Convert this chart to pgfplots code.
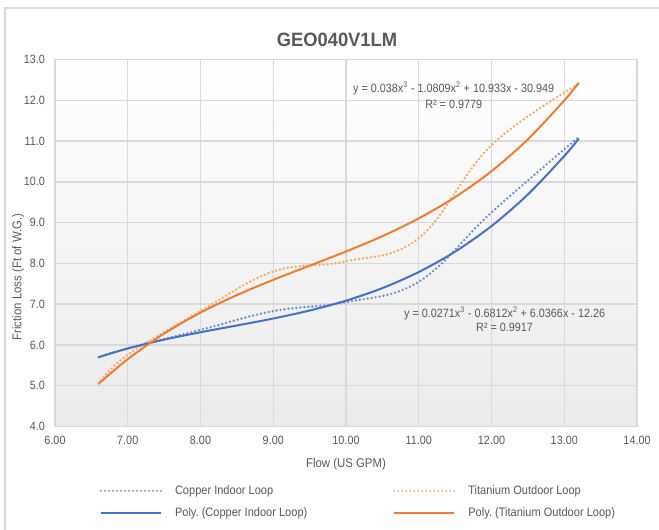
\documentclass[border=0pt]{standalone}
\usepackage{fontspec}
\setmainfont{Liberation Sans}[FakeStretch=0.9]
\newfontfamily\titlefont{Liberation Sans}[FakeStretch=0.95]
\usepackage{pgfplots}
\pgfplotsset{compat=1.18}
\definecolor{cuBlue}{HTML}{4472C4}
\definecolor{tiOrange}{HTML}{ED7D31}
\definecolor{cuDot}{HTML}{6F8FCF}
\definecolor{tiDot}{HTML}{F2AA64}
\definecolor{txt}{HTML}{595959}
\definecolor{gridc}{HTML}{D9D9D9}
\frenchspacing
\begin{document}
\frenchspacing
\begin{tikzpicture}[x=0.75pt,y=0.75pt]
\useasboundingbox (0,0) rectangle (659,529);
\fill[white] (0,0) rectangle (659,529);
\draw[gridc, line width=0.9pt] (5,-10) -- (5,521) -- (670,521);
\begin{axis}[
  at={(41.25pt,76.875pt)}, anchor=south west,
  width=436.5pt, height=275.25pt, scale only axis,
  xmin=6, xmax=14, ymin=4, ymax=13,
  xtick={6,7,...,14}, ytick={4,5,...,13},
  /pgf/number format/assume math mode=true,
  x tick label style={yshift=-4pt, /pgf/number format/.cd,fixed,fixed zerofill,precision=2},
  y tick label style={xshift=-4pt, /pgf/number format/.cd,fixed,fixed zerofill,precision=1},
  ticklabel style={font=\fontsize{9}{10}\selectfont, text=txt},
  grid=major, major grid style={gridc, line width=1.1pt},
  axis line style={gridc, line width=1.1pt},
  tick style={draw=none},
  axis background/.style={top color=white, bottom color=black!8},
  legend columns=2,
  legend cell align=left,
  legend image code/.code={\draw[#1, line width=1.5pt] (0pt,0pt) -- (45pt,0pt); \path (52.5pt,0pt);},
  legend style={at={(0.07,-0.145)}, anchor=north west, draw=none, fill=none,
    font=\fontsize{9.2}{11}\selectfont, text=txt, row sep=4.5pt,
    /tikz/every even column/.append style={column sep=62.5pt}},
]
% data series (smoothed)
\addplot[cuDot, line width=2pt, dash pattern=on 0pt off 3pt, line cap=round, smooth, tension=0.65]
  coordinates {(6.6,5.70) (7.0,5.92) (8.0,6.37) (9.0,6.83) (10.0,7.05) (11.0,7.55) (12.0,9.25) (13.2,11.10)};
\addlegendentry{Copper Indoor Loop}
\addplot[tiDot, line width=2pt, dash pattern=on 0pt off 3pt, line cap=round, smooth, tension=0.65]
  coordinates {(6.6,5.05) (7.0,5.76) (8.0,6.83) (9.0,7.80) (10.0,8.05) (11.0,8.62) (12.0,10.90) (13.2,12.40)};
\addlegendentry{Titanium Outdoor Loop}
% polynomial trendlines
\addplot[cuBlue, line width=1.5pt, smooth]
  coordinates {(6.6,5.700) (7.0,5.913) (7.5,6.130) (8.0,6.311) (8.5,6.477) (9.0,6.648) (9.5,6.844) (10.0,7.086) (10.5,7.394) (11.0,7.788) (11.5,8.288) (12.0,8.915) (12.5,9.690) (13.0,10.632) (13.2,11.060)};
\addlegendentry{Poly. (Copper Indoor Loop)}
\addplot[tiOrange, line width=1.5pt, smooth]
  coordinates {(6.6,5.050) (7.0,5.652) (7.5,6.279) (8.0,6.793) (8.5,7.223) (9.0,7.597) (9.5,7.944) (10.0,8.291) (10.5,8.668) (11.0,9.103) (11.5,9.625) (12.0,10.261) (12.5,11.042) (13.0,11.994) (13.2,12.430)};
\addlegendentry{Poly. (Titanium Outdoor Loop)}
\node[font=\fontsize{9}{11}\selectfont, text=txt] at (axis cs:11.48,12.28) {y = 0.038x\textsuperscript{3} - 1.0809x\textsuperscript{2} + 10.933x - 30.949};
\node[font=\fontsize{9}{11}\selectfont, text=txt] at (axis cs:11.48,11.90) {R² = 0.9779};
\node[font=\fontsize{9}{11}\selectfont, text=txt] at (axis cs:12.18,6.78) {y = 0.0271x\textsuperscript{3} - 0.6812x\textsuperscript{2} + 6.0366x - 12.26};
\node[font=\fontsize{9}{11}\selectfont, text=txt] at (axis cs:12.18,6.42) {R² = 0.9917};
\end{axis}
\node[font=\titlefont\bfseries\fontsize{14.5}{16}\selectfont, text=txt] at (337,489) {GEO040V1LM};
\node[font=\fontsize{9.5}{11}\selectfont, text=txt] at (346,65) {Flow (US GPM)};
\node[font=\fontsize{9.5}{11}\selectfont, text=txt, rotate=90] at (18,252) {Friction Loss (Ft of W.G.)};
\end{tikzpicture}
\end{document}
